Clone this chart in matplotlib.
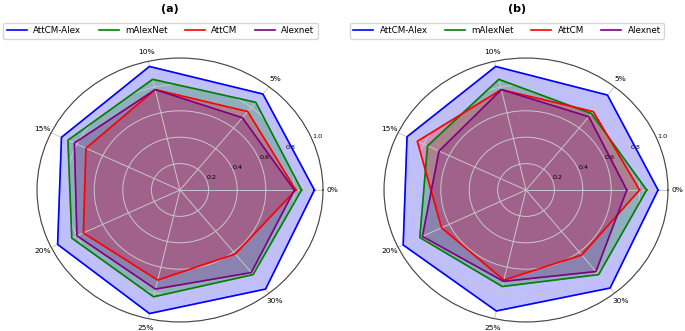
import matplotlib.pyplot as plt
import numpy as np

categories = ['0%', '5%', '10%', '15%', '20%', '25%', '30%']
models = ['AttCM-Alex', 'mAlexNet', 'AttCM', 'Alexnet']
colors = ['blue', 'green', 'red', 'purple']

# (a)
a_attcm_alex = [0.94, 0.93, 0.96, 0.92, 0.95, 0.96, 0.96]
a_malexnet = [0.85, 0.85, 0.86, 0.87, 0.84, 0.83, 0.82]
a_attcm = [0.81, 0.76, 0.78, 0.73, 0.75, 0.70, 0.62]
a_alexnet = [0.80, 0.70, 0.78, 0.82, 0.80, 0.77, 0.80]

# (b)
b_attcm_alex = [0.93, 0.92, 0.96, 0.93, 0.96, 0.94, 0.95]
b_malexnet = [0.85, 0.74, 0.86, 0.77, 0.83, 0.75, 0.82]
b_attcm = [0.80, 0.76, 0.78, 0.85, 0.66, 0.70, 0.63]
b_alexnet = [0.71, 0.71, 0.78, 0.68, 0.81, 0.71, 0.79]

panels = [
    ('(a)', [a_attcm_alex, a_malexnet, a_attcm, a_alexnet]),
    ('(b)', [b_attcm_alex, b_malexnet, b_attcm, b_alexnet]),
]

angles = np.linspace(0, 2 * np.pi, len(categories), endpoint=False)
angles_c = np.concatenate([angles, angles[:1]])

fig = plt.figure(figsize=(6.85, 3.31), dpi=100)
W, H = 685., 331.
boxes = [(37, 9, 286, 264), (384, 9, 284, 264)]  # left, bottom, w, h in px
title_x = [170, 517]
legend_x = [160.5, 507]

for i, (title, series) in enumerate(panels):
    l, b, w, h = boxes[i]
    ax = fig.add_axes([l / W, b / H, w / W, h / H], projection='polar')
    ax.set_aspect('auto')
    for vals, name, c in zip(series, models, colors):
        v = np.concatenate([vals, vals[:1]])
        ax.plot(angles_c, v, color=c, linewidth=1.2, label=name)
        ax.fill(angles_c, v, color=c, alpha=0.25)
    ax.set_ylim(0, 1.0)
    ax.set_yticks([0.2, 0.4, 0.6, 0.8, 1.0])
    ax.set_yticklabels(['0.2', '0.4', '0.6', '0.8', '1.0'], fontsize=4.6)
    ax.set_xticks(angles)
    ax.set_xticklabels(categories, fontsize=5.4)
    ax.tick_params(axis='x', pad=-3.5)
    ax.grid(color='#c8c8c8', linewidth=0.7)
    ax.spines['polar'].set_color('#444444')
    ax.spines['polar'].set_linewidth(0.8)
    fig.text(title_x[i] / W, 1 - 9 / H, title, ha='center', va='center',
             fontsize=8, fontweight='bold')
    ax.legend(loc='center', bbox_to_anchor=(legend_x[i] / W, 1 - 30.5 / H),
              bbox_transform=fig.transFigure, ncol=4, fontsize=6.3,
              handlelength=2.3, handletextpad=0.7, columnspacing=2.0,
              borderpad=0.4)

fig.savefig('out.png', dpi=100)
